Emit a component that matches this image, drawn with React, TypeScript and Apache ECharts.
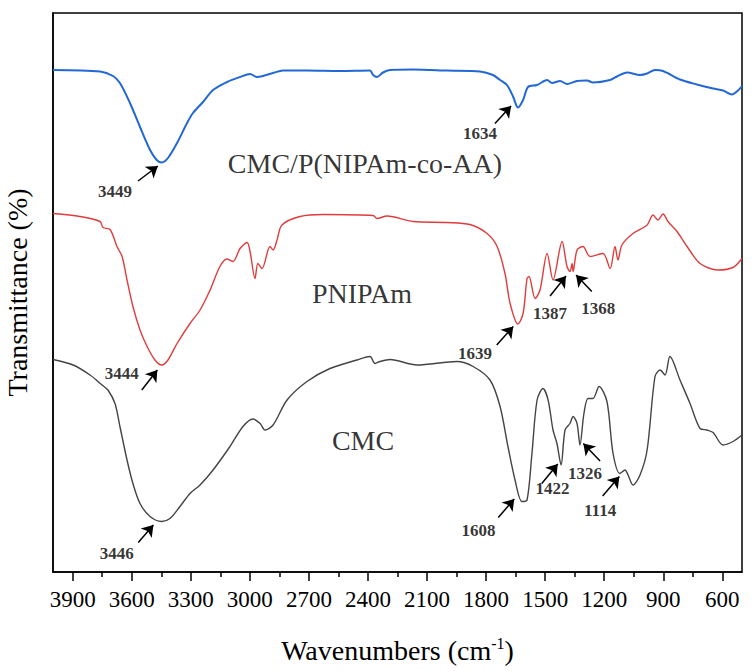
import React, { useEffect, useRef } from "react";
import * as echarts from "echarts";

const majorTicks = [3900, 3600, 3300, 3000, 2700, 2400, 2100, 1800, 1500, 1200, 900, 600];
const minorTicks = [3750, 3450, 3150, 2850, 2550, 2250, 1950, 1650, 1350, 1050, 750];

const wnBlue = [4000,3761,3695,3660,3609,3558,3507,3473,3448,3416,3370,3319,3289,3238,3187,3116,3050,2999,2964,2933,2882,2832,2710,2542,2390,2374,2354,2324,2288,2171,1998,1831,1765,1729,1694,1663,1638,1612,1587,1541,1490,1465,1424,1389,1338,1287,1257,1170,1135,1084,1018,982,942,901,815,729,647,596,551,520,500];
const tBlue = [100.4,100.1,99.2,97.8,93.8,89.0,84.4,82.4,81.9,82.8,85.8,89.8,91.8,94.0,96.4,98.0,99.0,99.6,99.0,99.2,99.8,100.3,100.3,100.2,100.3,99.4,99.0,99.9,100.4,100.5,100.3,100.1,99.4,98.4,97.4,95.1,92.9,94.4,97.0,97.4,98.4,97.8,98.2,97.6,98.2,98.3,97.9,98.4,99.1,99.9,99.4,99.7,100.4,100.2,98.5,97.5,96.7,96.3,95.5,96.3,97.2];

const wnRed = [4000,3863,3761,3746,3710,3675,3649,3624,3594,3558,3522,3482,3448,3416,3370,3304,3253,3202,3152,3116,3086,3050,3014,2999,2974,2959,2938,2898,2882,2862,2837,2745,2628,2374,2354,2303,2171,1998,1882,1795,1744,1704,1678,1638,1612,1592,1582,1551,1526,1490,1460,1414,1389,1374,1363,1358,1338,1308,1272,1206,1170,1145,1130,1110,1054,982,952,927,901,876,830,779,713,622,546,500];
const tRed = [71.7,71.1,70.1,68.9,68.5,65.1,63.1,58.4,53.1,48.4,45.1,42.4,41.4,42.4,45.7,49.7,52.4,56.4,61.1,62.6,62.1,64.7,65.9,64.1,58.7,61.7,60.7,65.1,64.4,66.4,69.4,71.1,71.5,71.3,70.7,71.2,70.1,69.9,69.5,67.7,65.1,59.7,53.7,49.6,51.7,58.7,59.1,54.7,56.4,63.7,58.4,66.1,61.1,60.1,61.7,60.1,64.4,65.1,63.1,63.7,60.7,65.1,62.4,65.4,67.7,69.4,71.4,70.4,71.6,70.1,68.1,65.1,61.7,60.4,60.9,62.7];

const wnGrey = [4000,3898,3812,3751,3721,3685,3660,3624,3594,3558,3507,3448,3406,3355,3304,3253,3187,3101,3035,2984,2948,2923,2882,2811,2710,2593,2456,2390,2364,2339,2288,2151,1948,1866,1780,1729,1689,1653,1618,1592,1567,1541,1511,1485,1460,1440,1419,1399,1374,1358,1338,1323,1303,1282,1257,1226,1186,1155,1120,1094,1079,1054,1018,982,942,916,891,866,815,764,713,678,647,596,546,500];
const tGrey = [42.5,41.4,39.4,37.4,36.4,33.7,29.1,22.4,17.7,13.7,11.1,10.1,10.7,13.1,15.7,17.4,20.4,25.1,29.1,30.6,29.7,28.4,29.4,34.4,38.1,40.7,42.4,43.1,41.7,42.1,42.5,41.4,42.1,41.1,38.4,33.1,25.1,18.4,14.1,14.4,23.7,34.4,36.7,34.4,28.4,25.7,21.4,28.4,29.7,31.1,29.7,25.4,31.7,34.7,34.7,37.1,34.1,23.7,19.7,20.4,19.4,17.4,19.4,24.4,39.1,40.4,39.4,43.1,38.4,33.7,28.7,28.4,27.9,25.4,26.1,27.4];

const peakLabels = ["3449", "1634", "3444", "1639", "1387", "1368", "3446", "1608", "1422", "1326", "1114"];
const peakLabelPos = [[3685,76.2],[1831,87.7],[3651,39.7],[1856,43.7],[1475,51.7],[1230,52.7],[3676,3.7],[1839,8.4],[1462,16.7],[1297,19.7],[1221,12.3]];
const arrowTail = [[3568,78.2],[1755,89.7],[3549,36.4],[1746,45.4],[1475,55.2],[1263,56.1],[3567,5.9],[1738,10.9],[1517,17.7],[1221,22.2],[1208,15.2]];
const arrowHead = [[3467,81.2],[1673,93.2],[3470,40.4],[1662,49.1],[1394,59.2],[1343,59.4],[3490,9.4],[1657,14.6],[1436,21.6],[1306,25.7],[1123,19.1]];

const curveNames = ["CMC/P(NIPAm-co-AA)", "PNIPAm", "CMC"];
const curveNamePos = [[2415,81.8],[2430,55.8],[2425,26.4]];

const zip = (xs: number[], ys: number[]) => xs.map((x, i) => [x, ys[i]]);

export default function App() {
  const ref = useRef<HTMLDivElement>(null);
  useEffect(() => {
    const chart = echarts.init(ref.current as HTMLDivElement, null, { renderer: "svg" });
    const serif = "Liberation Serif";
    const axisBase = {
      type: "value",
      min: 500,
      max: 4000,
      inverse: true,
      splitLine: { show: false },
    };
    chart.setOption({
      animation: false,
      backgroundColor: "#fff",
      textStyle: { fontFamily: serif },
      grid: {
        left: 53, right: 13, top: 13, bottom: 99,
        outerBoundsMode: "none", containLabel: false,
        show: true, borderColor: "#000", borderWidth: 1.5, backgroundColor: "transparent",
      },
      xAxis: [
        {
          ...axisBase,
          position: "bottom",
          axisLine: { show: true, onZero: false, lineStyle: { color: "#000", width: 1.5 } },
          axisTick: { show: true, customValues: majorTicks, length: 9, lineStyle: { color: "#000", width: 1.5 } },
          axisLabel: {
            show: true, customValues: majorTicks, margin: 16,
            fontFamily: serif, fontSize: 23, color: "#000",
            formatter: (v: number) => "{t|" + String(v) + "}",
            rich: { t: { fontFamily: serif, fontSize: 23, color: "#000" } },
          },
          name: "{t|Wavenumbers (cm}{sup|-1}{t|)}",
          nameLocation: "middle",
          nameGap: 63,
          nameTextStyle: {
            fontFamily: serif, fontSize: 28, color: "#000",
            rich: {
              t: { fontFamily: serif, fontSize: 28, color: "#000", lineHeight: 30 },
              sup: { fontFamily: serif, fontSize: 16, color: "#000", verticalAlign: "top", lineHeight: 30 },
            },
          },
        },
        {
          ...axisBase,
          position: "bottom",
          offset: 0,
          axisLine: { show: false },
          axisTick: { show: true, customValues: minorTicks, length: 5, lineStyle: { color: "#000", width: 1.5 } },
          axisLabel: { show: false },
        },
      ],
      yAxis: {
        type: "value",
        min: 0,
        max: 111.8,
        axisLine: { show: true, onZero: false, lineStyle: { color: "#000", width: 1.5 } },
        axisTick: { show: false },
        axisLabel: { show: false },
        splitLine: { show: false },
        name: "{t|Transmittance (%)}",
        nameLocation: "middle",
        nameGap: 22,
        nameTextStyle: {
          fontFamily: serif, fontSize: 28, color: "#000",
          rich: { t: { fontFamily: serif, fontSize: 28, color: "#000" } },
        },
      },
      series: [
        { type: "line", data: zip(wnBlue, tBlue), showSymbol: false, smooth: 0.3, lineStyle: { color: "#2268d4", width: 2 }, silent: true },
        { type: "line", data: zip(wnRed, tRed), showSymbol: false, smooth: 0.3, lineStyle: { color: "#e03c3c", width: 1.4 }, silent: true },
        { type: "line", data: zip(wnGrey, tGrey), showSymbol: false, smooth: 0.3, lineStyle: { color: "#444444", width: 1.4 }, silent: true },
        {
          type: "scatter",
          symbolSize: 1,
          itemStyle: { color: "rgba(0,0,0,0)" },
          silent: true,
          z: 5,
          data: peakLabels.map((t, i) => [peakLabelPos[i][0], peakLabelPos[i][1], t]),
          label: { show: true, position: "inside", formatter: (p: any) => p.value[2], fontFamily: serif, fontSize: 17, fontWeight: "bold", color: "#000" },
          markLine: {
            silent: true,
            symbol: ["none", "arrow"],
            symbolSize: 11,
            lineStyle: { color: "#000", width: 1.5, type: "solid" },
            label: { show: false },
            data: arrowTail.map((t, i) => [{ coord: t }, { coord: arrowHead[i] }]),
          },
        },
        {
          type: "scatter",
          symbolSize: 1,
          itemStyle: { color: "rgba(0,0,0,0)" },
          silent: true,
          z: 5,
          data: curveNames.map((t, i) => [curveNamePos[i][0], curveNamePos[i][1], t]),
          label: { show: true, position: "inside", formatter: (p: any) => p.value[2], fontFamily: serif, fontSize: 28, color: "#000" },
        },
      ],
    });
    return () => chart.dispose();
  }, []);
  return <div ref={ref} style={{ position: "fixed", left: 0, top: 0, width: 755, height: 671, background: "#fff" }} />;
}
